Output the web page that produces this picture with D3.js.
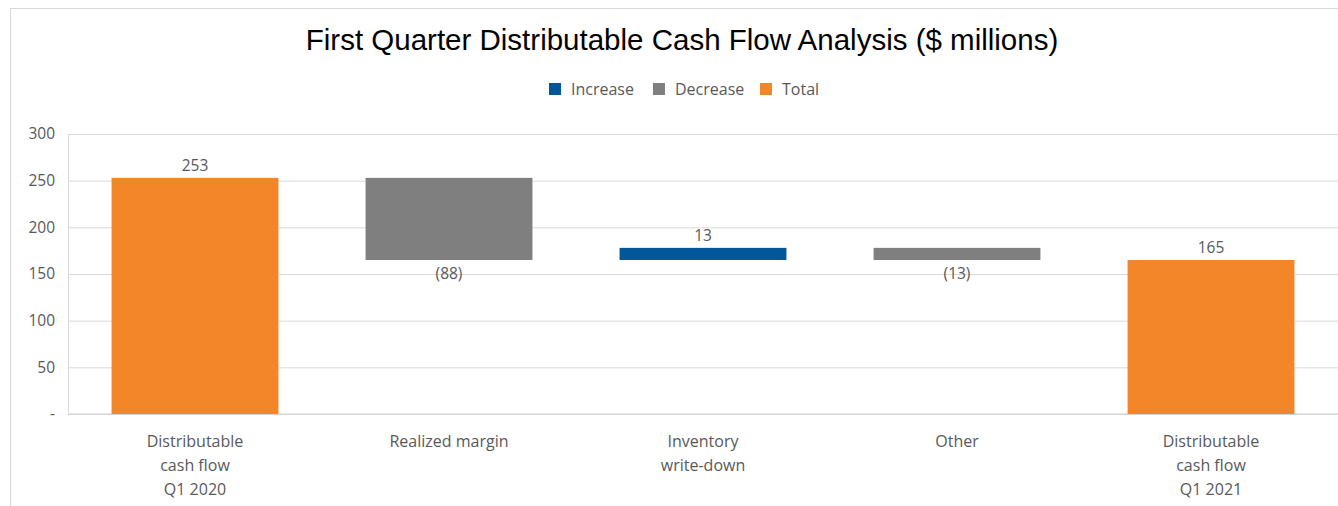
<!DOCTYPE html>
<html>
<head>
<meta charset="utf-8">
<script src="https://cdn.jsdelivr.net/npm/d3@7"></script>
<style>
  body { margin: 0; background: #fff; }
  .tick text { font-family: "Open Sans", sans-serif; font-size: 15.5px; fill: #595959; }
  .tick line { stroke: #d9d9d9; }
  .domain { display: none; }
</style>
</head>
<body>
<div class="chart"></div>
<script>
var svgWidth = 1338;
var svgHeight = 506;

var margin = { top: 134, right: 0, bottom: 92, left: 68 };
var width = svgWidth - margin.left - margin.right;
var height = svgHeight - margin.top - margin.bottom;

// chart values
var categories = ["Distributable cash flow Q1 2020", "Realized margin", "Inventory write-down", "Other", "Distributable cash flow Q1 2021"];
var categoryLines = [["Distributable", "cash flow", "Q1 2020"], ["Realized margin"], ["Inventory", "write-down"], ["Other"], ["Distributable", "cash flow", "Q1 2021"]];
var changes = [253, -88, 13, -13, 165];
var kinds = ["Total", "Decrease", "Increase", "Decrease", "Total"];
var valueLabels = ["253", "(88)", "13", "(13)", "165"];
var yTicks = [0, 50, 100, 150, 200, 250, 300];
var legendNames = ["Increase", "Decrease", "Total"];

var colors = { Increase: "#02569A", Decrease: "#7F7F7F", Total: "#F4862A" };

// waterfall start/end
var bars = [];
var running = 0;
changes.forEach(function(v, i) {
  var start, end;
  if (kinds[i] === "Total") { start = 0; end = v; running = v; }
  else { start = running; end = running + v; running = end; }
  bars.push({ cat: categories[i], start: start, end: end, kind: kinds[i], label: valueLabels[i], lines: categoryLines[i] });
});

var svg = d3.select(".chart")
  .append("svg")
  .attr("width", svgWidth)
  .attr("height", svgHeight);

// outer frame
svg.append("line").attr("x1", 10).attr("x2", svgWidth).attr("y1", 8.5).attr("y2", 8.5)
  .attr("stroke", "#d9d9d9");
svg.append("line").attr("x1", 10.5).attr("x2", 10.5).attr("y1", 8).attr("y2", svgHeight)
  .attr("stroke", "#d9d9d9");

svg.append("text")
  .attr("x", 682)
  .attr("y", 50)
  .attr("text-anchor", "middle")
  .style("font-family", "Liberation Sans, Arial, sans-serif")
  .style("font-size", "29.5px")
  .style("fill", "#000")
  .text("First Quarter Distributable Cash Flow Analysis ($ millions)");

// legend
var legendX = [549, 653, 760];
var legend = svg.append("g");
legendNames.forEach(function(name, i) {
  legend.append("rect")
    .attr("x", legendX[i]).attr("y", 83)
    .attr("width", 12).attr("height", 12)
    .attr("fill", colors[name]);
  legend.append("text")
    .attr("x", legendX[i] + 22).attr("y", 95)
    .style("font-family", "Open Sans, sans-serif")
    .style("font-size", "16px")
    .style("fill", "#595959")
    .text(name);
});

var chartGroup = svg.append("g")
  .attr("transform", `translate(${margin.left}, ${margin.top})`);

var xScale = d3.scaleBand()
  .domain(categories)
  .range([0, width])
  .paddingInner(0.343)
  .paddingOuter(0.343 / 2);

var yScale = d3.scaleLinear()
  .domain([0, 300])
  .range([height, 0]);

// grid + y axis
var leftAxis = d3.axisLeft(yScale)
  .tickValues(yTicks)
  .tickSize(-width)
  .tickPadding(13)
  .tickFormat(function(d) { return d === 0 ? "-" : d; });

chartGroup.append("g")
  .call(leftAxis);

// axis lines
chartGroup.append("line")
  .attr("x1", 0).attr("x2", width)
  .attr("y1", height).attr("y2", height)
  .attr("stroke", "#d0d0d0");
chartGroup.append("line")
  .attr("x1", 0.5).attr("x2", 0.5)
  .attr("y1", 0).attr("y2", height)
  .attr("stroke", "#d9d9d9");

// bars
chartGroup.selectAll(".bar")
  .data(bars)
  .enter()
  .append("rect")
  .attr("class", "bar")
  .attr("x", d => xScale(d.cat))
  .attr("width", xScale.bandwidth())
  .attr("y", d => yScale(Math.max(d.start, d.end)))
  .attr("height", d => Math.abs(yScale(d.start) - yScale(d.end)))
  .attr("fill", d => colors[d.kind]);

// value labels
chartGroup.selectAll(".vlabel")
  .data(bars)
  .enter()
  .append("text")
  .attr("class", "vlabel")
  .attr("x", d => xScale(d.cat) + xScale.bandwidth() / 2)
  .attr("y", function(d) {
    if (d.kind === "Decrease") return yScale(Math.min(d.start, d.end)) + 19;
    return yScale(Math.max(d.start, d.end)) - 7;
  })
  .attr("text-anchor", "middle")
  .style("font-family", "Open Sans, sans-serif")
  .style("font-size", "15.5px")
  .style("fill", "#595959")
  .text(d => d.label);

// category labels
var catLabels = chartGroup.selectAll(".clabel")
  .data(bars)
  .enter()
  .append("text")
  .attr("class", "clabel")
  .attr("x", d => xScale(d.cat) + xScale.bandwidth() / 2)
  .attr("y", height + 33)
  .attr("text-anchor", "middle")
  .style("font-family", "Open Sans, sans-serif")
  .style("font-size", "16px")
  .style("fill", "#595959");

catLabels.each(function(d) {
  var t = d3.select(this);
  d.lines.forEach(function(line, i) {
    t.append("tspan")
      .attr("x", xScale(d.cat) + xScale.bandwidth() / 2)
      .attr("dy", i === 0 ? 0 : 24)
      .text(line);
  });
});
</script>
</body>
</html>
